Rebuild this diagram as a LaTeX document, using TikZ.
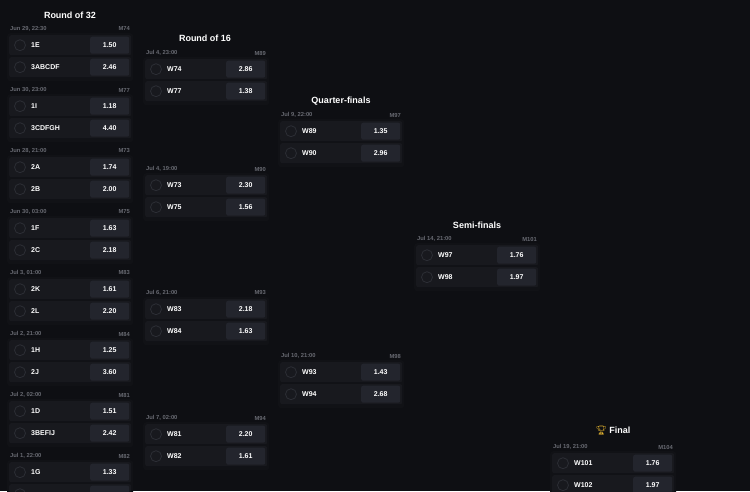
\documentclass[tikz,border=0pt]{standalone}
\usepackage{fontspec}
\setmainfont{Liberation Sans}
\newfontfamily\emojifont{Noto Emoji}
\definecolor{bgc}{HTML}{0E0F13}
\definecolor{cardc}{HTML}{111216}
\definecolor{rowc}{HTML}{18191E}
\definecolor{oddc}{HTML}{23252D}
\definecolor{circc}{HTML}{2C2E35}
\definecolor{hdrc}{HTML}{686A72}
\definecolor{goldc}{HTML}{E8B730}
\tikzset{
  rowbox/.style={fill=rowc, rounded corners=2pt, minimum width=122pt, minimum height=20pt, inner sep=0pt, anchor=north west},
  cardbox/.style={fill=cardc, rounded corners=3pt, minimum width=126pt, minimum height=48pt, inner sep=0pt, anchor=north west},
  oddbox/.style={fill=oddc, rounded corners=2pt, minimum width=39pt, minimum height=17pt, inner sep=0pt, anchor=east, text=white, font=\bfseries\fontsize{7}{8}\selectfont},
  circ/.style={circle, draw=circc, line width=0.8pt, minimum size=11pt, inner sep=0pt},
  team/.style={anchor=west, inner sep=0pt, text=white, font=\bfseries\fontsize{7}{8}\selectfont},
  hdr/.style={inner sep=0pt, text=hdrc, font=\bfseries\fontsize{5.8}{6}\selectfont},
  title/.style={inner sep=0pt, text=white, font=\bfseries\fontsize{9}{10}\selectfont},
}
\newcommand\mymatch[9]{%
  \node[cardbox] (#1card) at ({#2-2},{#3+4}) {};
  \node[hdr, anchor=west] (#1d) at ({#2+1},#3) {#4};
  \node[hdr, anchor=east] (#1m) at ({#2+121},#3) {#5};
  \node[rowbox] (#1a) at (#2,{#3+6}) {};
  \node[rowbox] (#1b) at (#2,{#3+28}) {};
  \node[circ] (#1ca) at ([xshift=11pt]#1a.west) {};
  \node[circ] (#1cb) at ([xshift=11pt]#1b.west) {};
  \node[team] (#1ta) at ([xshift=22pt]#1a.west) {#6};
  \node[team] (#1tb) at ([xshift=22pt]#1b.west) {#8};
  \node[oddbox] (#1oa) at ([xshift=-2pt]#1a.east) {#7};
  \node[oddbox] (#1ob) at ([xshift=-2pt]#1b.east) {#9};
}
\begin{document}
\begin{tikzpicture}[x=1pt,y=-1pt]
\useasboundingbox[fill=bgc] (0,0) rectangle (750,491);
\clip (0,0) rectangle (750,491);
% titles
\node[title] (t32) at (70,15) {Round of 32};
\node[title] (t16) at (205,38) {Round of 16};
\node[title] (tqf) at (341,101) {Quarter-finals};
\node[title] (tsf) at (477,225) {Semi-finals};
\node[title] (tf) at (613,430) {{\emojifont\color{goldc}🏆} Final};
% Round of 32
\mymatch{a1}{9}{29}{Jun 29, 22:30}{M74}{1E}{1.50}{3ABCDF}{2.46}
\mymatch{a2}{9}{90}{Jun 30, 23:00}{M77}{1I}{1.18}{3CDFGH}{4.40}
\mymatch{a3}{9}{151}{Jun 28, 21:00}{M73}{2A}{1.74}{2B}{2.00}
\mymatch{a4}{9}{212}{Jun 30, 03:00}{M75}{1F}{1.63}{2C}{2.18}
\mymatch{a5}{9}{273}{Jul 3, 01:00}{M83}{2K}{1.61}{2L}{2.20}
\mymatch{a6}{9}{334}{Jul 2, 21:00}{M84}{1H}{1.25}{2J}{3.60}
\mymatch{a7}{9}{395}{Jul 2, 02:00}{M81}{1D}{1.51}{3BEFIJ}{2.42}
\mymatch{a8}{9}{456}{Jul 1, 22:00}{M82}{1G}{1.33}{}{}
% Round of 16
\mymatch{b1}{145}{53}{Jul 4, 23:00}{M89}{W74}{2.86}{W77}{1.38}
\mymatch{b2}{145}{169}{Jul 4, 19:00}{M90}{W73}{2.30}{W75}{1.56}
\mymatch{b3}{145}{293}{Jul 6, 21:00}{M93}{W83}{2.18}{W84}{1.63}
\mymatch{b4}{145}{418}{Jul 7, 02:00}{M94}{W81}{2.20}{W82}{1.61}
% Quarter-finals
\mymatch{c1}{280}{115}{Jul 9, 22:00}{M97}{W89}{1.35}{W90}{2.96}
\mymatch{c2}{280}{356}{Jul 10, 21:00}{M98}{W93}{1.43}{W94}{2.68}
% Semi-finals
\mymatch{d1}{416}{239}{Jul 14, 21:00}{M101}{W97}{1.76}{W98}{1.97}
% Final
\mymatch{e1}{552}{447}{Jul 19, 21:00}{M104}{W101}{1.76}{W102}{1.97}
\end{tikzpicture}
\end{document}
